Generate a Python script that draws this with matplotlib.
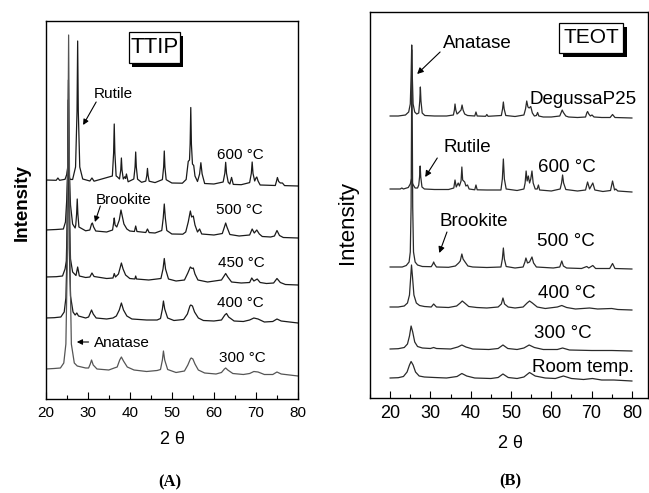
import numpy as np
import matplotlib
matplotlib.use("Agg")
from matplotlib import pyplot as plt
from matplotlib.patches import Rectangle
from matplotlib.ticker import MultipleLocator

plt.rcParams['font.family'] = ['Liberation Sans', 'DejaVu Sans']

# ---- data: (2 theta, intensity above curve baseline) ----
# (A) TTIP series
ttip_600 = [(20, 0), (22.5, -0.3), (22.9, 2), (23.3, -0.3), (24.6, 0.7), (25.0, 5.5), (25.2, 11.5), (25.4, 5.5),
            (25.8, 0.6), (26.4, 0.5), (27.1, 13), (27.45, 69), (27.6, 139), (27.75, 69), (28.1, 13), (28.8, 1),
            (30.5, -1), (31, 2), (31.5, -1.2), (35.85, 4), (36.15, 27), (36.3, 56), (36.45, 27), (36.75, 4),
            (37.0, 3.3), (37.55, 1), (37.85, 10), (38.0, 22), (38.15, 10), (38.45, 1), (38.8, 3.2), (39.0, 1.5),
            (39.2, 6), (39.6, -1.8), (40.95, 1), (41.25, 13), (41.4, 28), (41.55, 13), (41.85, 0.8), (42.8, -2.3),
            (43.8, -1.1), (44.05, 4.6), (44.2, 11.6), (44.35, 4.6), (44.6, -1.2), (46, -2.6), (47.75, 0.4),
            (48.05, 13), (48.2, 29), (48.35, 13), (48.65, 0.3), (50, -3), (52.5, -3.2), (53.4, 0.5), (53.9, 18.6),
            (54.2, 20), (54.35, 36), (54.5, 72.5), (54.65, 36), (54.9, 16), (55.2, 14.5), (55.5, 4), (56.1, -1.5),
            (56.6, 6), (56.9, 17.3), (57.2, 6), (57.8, -3.5), (60, -4), (62.2, -2), (62.6, 6.7), (62.8, 17.7),
            (63.0, 6.7), (63.4, -2.2), (63.8, -4), (64.2, 2.6), (64.6, -4.4), (66.5, -4.7), (68.5, -2.6),
            (68.9, 6.6), (69.1, 18), (69.3, 6.6), (69.7, -1), (70.0, 2), (70.2, 3), (70.5, -1), (71, -5),
            (72.5, -5.2), (74.6, -5.5), (74.9, -1), (75.1, 2.5), (75.4, -1.5), (75.8, -3), (76.3, -3),
            (76.8, -5.6), (80, -6)]
ttip_500 = [(20, 0), (22.5, 0.5), (24.2, 1), (24.7, 8), (25.0, 30), (25.2, 60), (25.4, 110), (25.6, 60),
            (25.9, 25), (26.4, 6), (27.0, 2), (27.15, 5), (27.35, 16), (27.5, 31), (27.65, 16), (27.9, 3),
            (29.5, -0.8), (30.5, 0), (30.9, 6), (31.1, 7), (31.4, 3), (31.9, -1), (34.5, -2), (35.9, 0),
            (36.15, 7), (36.3, 12), (36.5, 5), (36.9, 3), (37.5, 10), (37.9, 20), (38.2, 14), (38.6, 6),
            (39.3, 1), (40, -1), (41.1, -1.5), (41.4, 4), (41.7, -1.5), (43.8, -2.5), (44.2, 1), (44.6, -2.6),
            (46, -3), (47.6, -0.5), (47.95, 12), (48.2, 26), (48.45, 12), (48.8, -0.5), (50, -4), (52.6, -4.2),
            (53.3, -2), (53.9, 8), (54.4, 19), (54.7, 13), (55.1, 14), (55.5, 5), (56.1, -2), (56.6, 1),
            (57.1, -4), (60, -5), (62.0, -3.5), (62.5, 3), (62.8, 7), (63.1, 3), (63.8, -4.5), (66, -6),
            (68.5, -5), (69.1, 1), (69.6, -3), (70.2, 0), (70.8, -4), (71.5, -6.5), (73.5, -7), (74.4, -6),
            (75.0, -0.5), (75.6, -5.5), (76.5, -7.5), (80, -8)]
ttip_450 = [(20, 0), (22.5, 0.3), (24.0, 1), (24.6, 8), (24.9, 16), (25.15, 60), (25.4, 197), (25.65, 60),
            (25.9, 18), (26.4, 5), (27.2, 1.5), (27.6, 10), (28.0, 1), (29.5, -0.5), (30.5, 0), (31, 4),
            (31.5, 0.5), (34.5, -1.5), (36.0, -1), (36.3, 3.5), (36.6, 0), (37.3, 3), (37.75, 10), (38.0, 14),
            (38.4, 8), (39.0, 2), (40, -1.5), (41.2, -2), (41.4, 1), (41.6, -2), (44.5, -3), (47.4, -1.5),
            (47.9, 8), (48.2, 18.5), (48.5, 8), (49.2, -2), (51, -4), (53, -3), (53.8, 4), (54.4, 10),
            (54.8, 8.5), (55.1, 9), (55.5, 3), (56.2, -3), (58.5, -5), (61.8, -3), (62.5, 1.5), (62.8, 3.5),
            (63.3, 0), (64.2, -5), (66.5, -6), (68.5, -5.5), (69.0, -1), (69.5, -4), (70.3, -2), (71, -5.5),
            (72.5, -6.5), (74.2, -6), (75, -1.5), (75.8, -5.5), (77, -7.5), (80, -8)]
ttip_400 = [(20, 0), (22.0, 0.3), (23.6, 1), (24.4, 6), (24.8, 20), (25.1, 70), (25.35, 218), (25.6, 70),
            (25.9, 22), (26.5, 6), (27.0, 3), (27.4, 5), (27.8, 2), (29.5, 0), (30.2, 1), (30.6, 5), (30.9, 8),
            (31.3, 4), (32.0, 0), (34.5, -1), (36, 0), (36.8, 2), (37.5, 8), (38.0, 15), (38.5, 8), (39.3, 2),
            (40.5, -1), (44, -2), (46.5, -2), (47.3, -0.5), (47.75, 9), (48.0, 17), (48.3, 9), (49.0, 0),
            (50.5, -2.5), (52.8, -1.5), (53.7, 4), (54.3, 12), (54.5, 13), (54.9, 12), (55.4, 6), (56.3, 0),
            (57.5, -2.5), (60, -3), (61.8, -2), (62.6, 3), (63.0, 4.5), (63.5, 1), (64.8, -3), (67, -3.5),
            (68.5, -2), (69.5, 0), (70.5, -1), (72, -4), (74, -3.5), (75, -1), (76, -3), (80, -5)]
ttip_300 = [(20, 0), (22.0, 0.5), (23.5, 1), (24.3, 6), (24.8, 25), (25.1, 100), (25.45, 334), (25.8, 100),
            (26.1, 25), (26.8, 6), (27.5, 3), (29.5, 1), (30.2, 1), (30.6, 5), (30.9, 9), (31.3, 4), (32.2, 0),
            (35, -1), (36.3, 1), (37.0, 2), (37.6, 9), (38.0, 12), (38.5, 8), (39.4, 2), (41, -1), (44, -2.5),
            (46.5, -1.5), (47.3, -0.5), (47.75, 9), (48.0, 18), (48.3, 9), (49.0, -0.5), (51, -3.5),
            (53.0, -2), (53.8, 4), (54.4, 10), (54.6, 11), (55.0, 10), (55.5, 5), (56.3, -1), (57.8, -4),
            (60.5, -5), (61.8, -3.5), (62.5, 0), (62.8, 1), (63.3, -1), (64.5, -4.5), (67, -5.5), (68.5, -4.5),
            (69.5, -2.5), (70.5, -3), (72, -5.5), (74, -5.5), (75, -3), (76, -5), (80, -7)]

# (B) TEOT series
p25 = [(20, 0), (22, 0), (23.8, 1), (24.6, 4), (25.0, 12), (25.2, 40), (25.35, 71), (25.5, 40), (25.7, 12),
       (26.1, 4), (26.6, 2), (27.1, 3), (27.35, 15), (27.5, 29), (27.65, 15), (27.95, 3), (28.6, 0.5), (31, 0),
       (34, 0), (35.7, 1), (35.95, 6), (36.1, 12), (36.3, 6), (36.6, 2), (36.9, 3), (37.6, 6), (37.85, 11),
       (38.1, 6), (38.5, 2), (39.2, 0.5), (41, 0), (41.3, 4), (41.6, 0), (43.7, -0.3), (44, 1.5), (44.3, -0.3),
       (47.6, 0.5), (47.9, 7), (48.1, 14), (48.3, 7), (48.7, 0.5), (51, -0.5), (53.2, 1), (53.6, 7), (53.9, 15),
       (54.2, 9), (54.5, 8), (54.9, 9.5), (55.3, 3), (55.8, 0), (56.3, 0.5), (56.6, 3.5), (56.9, 0), (58, -1),
       (60, -1), (62.1, 0), (62.5, 4), (62.7, 6), (63.0, 3.5), (63.6, 0), (64.3, -1), (66.5, -1.5),
       (68.5, -1), (68.8, 3), (69.0, 4.5), (69.3, 2), (69.7, 0), (70.1, 1), (70.6, -1), (72.5, -1.5),
       (74.6, -1.5), (75.2, 1.5), (75.8, -1.5), (80, -2)]
teot_600 = [(20, 0), (22.5, 0), (22.9, 1), (23.3, 0), (24.5, 1.5), (25.0, 5), (25.3, 10), (25.6, 5), (26.2, 1),
            (26.8, 1), (27.1, 4), (27.3, 12), (27.45, 23), (27.6, 12), (27.9, 2), (28.5, 0), (31, -0.5),
            (34.5, -0.5), (35.8, 1), (36.1, 9), (36.4, 2), (36.9, 6), (37.2, 3), (37.6, 8), (37.8, 22), (38.0, 9),
            (38.5, 7), (38.8, 3), (39.2, 4), (39.6, 0), (41.0, -0.8), (41.3, 4), (41.6, -0.8), (44, -1),
            (47.5, -1), (47.85, 10), (48.1, 30), (48.35, 10), (48.8, 0), (51.5, -1.5), (53.2, 0), (53.5, 6),
            (53.75, 18), (54.0, 8), (54.3, 13), (54.6, 6), (54.9, 10), (55.2, 18), (55.5, 6), (56.0, 0),
            (56.5, 0), (56.8, 4), (57.1, -1), (60, -2), (62.2, 0), (62.55, 6), (62.8, 14), (63.05, 6),
            (63.6, -0.5), (66.5, -2), (68.5, -1), (69.0, 7), (69.5, 0), (70.3, 6), (70.8, -1), (72.8, -2.5),
            (74.7, -1.5), (75.2, 8), (75.7, -1), (76.0, 0), (76.5, -2), (80, -3)]
teot_500 = [(20, 0), (23, 0), (24.0, 1.5), (24.7, 5), (25.0, 15), (25.2, 60), (25.4, 217), (25.6, 60),
            (25.8, 15), (26.2, 5), (26.8, 2), (28, 0.5), (30.2, 0.3), (30.6, 3), (30.8, 5), (31.0, 3), (31.5, 0),
            (34.5, -0.3), (36.2, 1), (37.0, 4), (37.4, 6), (37.8, 13), (38.1, 8), (38.6, 5), (39.3, 1), (40.5, 0),
            (44, -0.5), (47.5, 0), (47.85, 8), (48.1, 19), (48.35, 8), (48.8, 0.5), (51, -1), (53.0, 0),
            (53.45, 5), (53.7, 9), (54.1, 4), (54.6, 5), (55.2, 10), (55.6, 4), (56.3, 0), (60.5, -1),
            (62.1, 0), (62.6, 6), (63.0, 1), (63.8, -1), (67.5, -1.5), (68.8, 0.5), (69.3, -1), (70.3, 1.5),
            (71, -1.5), (74.5, -1.5), (75.2, 3.5), (75.8, -1.5), (80, -2)]
teot_400 = [(20, 0), (22, 0), (23.5, 1), (24.3, 4), (24.8, 12), (25.1, 30), (25.3, 42), (25.55, 30),
            (25.9, 12), (26.5, 4), (27.3, 1.5), (28.5, 0.5), (30.2, 0), (30.8, 3), (31.5, 0), (34.5, -0.5),
            (36.5, 1), (37.4, 4), (37.9, 6), (38.5, 4), (39.5, 0.5), (41.5, -0.5), (44, -1), (46.8, 0),
            (47.6, 3), (48.0, 9), (48.4, 3), (49.3, 0), (51, -1), (53, 0), (54.0, 4), (54.6, 6), (55.3, 4),
            (56.5, 0), (58.5, -1.5), (61.5, 0), (62.6, 1.5), (63.8, -0.5), (66, -2), (69.5, -1), (71.5, -2),
            (75, -1.5), (76.5, -2.5), (80, -3)]
teot_300 = [(20, 0), (22, 0.3), (23.5, 1.5), (24.3, 5), (24.8, 13), (25.2, 23), (25.6, 17), (26.1, 7),
            (26.8, 2.5), (28, 1), (30, 0.5), (30.8, 1.5), (31.5, 0.5), (35, 0), (36.8, 2), (37.8, 4), (38.8, 2),
            (40.5, 0), (44.5, -0.5), (46.8, 0.5), (48.0, 4), (49.2, 0.5), (51.5, -0.5), (53.2, 1), (54.5, 4),
            (55.8, 1.5), (58, -0.5), (61.5, -0.5), (62.8, 1), (64.5, -1), (70, -1.5), (75, -1.5), (80, -2)]
teot_rt = [(20, 0), (22, 0.3), (23.3, 1.5), (24.2, 6), (24.8, 13), (25.2, 16.5), (25.7, 13), (26.3, 6),
           (27.2, 2), (28.5, 1), (31, 0.5), (34, 0), (36.6, 1.5), (37.8, 4.5), (39, 2), (41, 0), (45, -0.5),
           (46.8, 0.5), (48.0, 4), (49.3, 0.5), (51.5, -0.5), (53.2, 1), (54.6, 5.5), (56, 2), (58.5, 0),
           (61, -0.5), (63.0, 2), (65, -0.5), (68, -1.5), (70.2, -0.5), (72.5, -2), (75.5, -2), (80, -3)]

ttip_curves = [ttip_600, ttip_500, ttip_450, ttip_400, ttip_300]
ttip_labels = ["600 °C", "500 °C", "450 °C", "400 °C", "300 °C"]
ttip_offsets = [219, 169, 122, 81, 30]
ttip_colors = ["#1a1a1a", "#1a1a1a", "#1a1a1a", "#1a1a1a", "#555555"]
ttip_label_pos = [(60.7, 244), (60.5, 189), (61.0, 136), (60.7, 96), (61.2, 41)]

teot_curves = [p25, teot_600, teot_500, teot_400, teot_300, teot_rt]
teot_labels = ["DegussaP25", "600 °C", "500 °C", "400 °C", "300 °C", "Room temp."]
teot_offsets = [282, 209, 131, 91, 49, 20]
teot_label_pos = [(54.7, 299), (56.7, 230), (56.5, 156), (56.7, 105), (55.7, 65), (55.2, 30)]

W, H = 649, 493
fig = plt.figure(figsize=(W / 100, H / 100), dpi=100)

def px_box(x0, y0, x1, y1):
    # figure pixel box -> [left, bottom, width, height]
    return [x0 / W, 1 - y1 / H, (x1 - x0) / W, (y1 - y0) / H]

def style_axis(ax, fs):
    ax.set_yticks([])
    ax.xaxis.set_major_locator(MultipleLocator(10))
    ax.xaxis.set_minor_locator(MultipleLocator(5))
    ax.tick_params(axis='x', which='major', direction='in', length=5, width=0.8, labelsize=fs, pad=5)
    ax.tick_params(axis='x', which='minor', direction='in', length=3, width=0.8)
    for s in ax.spines.values():
        s.set_linewidth(1.0)

def shadow_box(ax, x0, y0, x1, y1, text, fs, weight='normal'):
    ax.add_patch(Rectangle((x0 + 0.013, y0 - 0.01), x1 - x0, y1 - y0, transform=ax.transAxes,
                           fc='black', ec='black', lw=0, zorder=4))
    ax.add_patch(Rectangle((x0, y0), x1 - x0, y1 - y0, transform=ax.transAxes,
                           fc='white', ec='black', lw=0.9, zorder=5))
    ax.text((x0 + x1) / 2, (y0 + y1) / 2, text, transform=ax.transAxes, ha='center', va='center',
            fontsize=fs, fontweight=weight, zorder=6)

def arrow(ax, start, end, ms):
    ax.annotate("", xy=end, xytext=start,
                arrowprops=dict(arrowstyle='-|>', lw=0.8, color='black', mutation_scale=ms,
                                shrinkA=0, shrinkB=0))

# ---- panel A ----
axA = fig.add_axes(px_box(45.7, 21, 298, 399))
for curve, off, col in zip(ttip_curves, ttip_offsets, ttip_colors):
    tt = np.array([p[0] for p in curve])
    ii = np.array([p[1] for p in curve])
    axA.plot(tt, ii + off, color=col, lw=0.9)
for lab, (x, y) in zip(ttip_labels, ttip_label_pos):
    axA.text(x, y, lab, fontsize=11, va='center', ha='left')
axA.set_xlim(20, 80)
axA.set_ylim(0, 378)
style_axis(axA, 11)

axA.text(31.5, 305, "Rutile", fontsize=11, va='center')
arrow(axA, (32.0, 297), (28.9, 274), 8)
axA.text(32.0, 199, "Brookite", fontsize=11, va='center')
arrow(axA, (33.0, 193), (31.7, 177), 8)
axA.text(31.5, 56, "Anatase", fontsize=11, va='center')
arrow(axA, (30.2, 57), (27.4, 57), 8)
shadow_box(axA, 0.330, 0.889, 0.532, 0.971, "TTIP", 16)

fig.text(22 / W, 1 - 203 / H, "Intensity", rotation=90, fontsize=13.5, fontweight='bold',
         ha='center', va='center')
fig.text(172 / W, 1 - 440 / H, "2 θ", fontsize=13, ha='center', va='center')
fig.text(170 / W, 1 - 482 / H, "(A)", fontsize=12, ha='center', va='center',
         family=['Liberation Serif', 'DejaVu Serif'], fontweight='bold')

# ---- panel B ----
axB = fig.add_axes(px_box(370, 11.7, 648, 398))
for curve, off in zip(teot_curves, teot_offsets):
    tt = np.array([p[0] for p in curve])
    ii = np.array([p[1] for p in curve])
    axB.plot(tt, ii + off, color="#2a2a2a", lw=0.9)
for lab, (x, y) in zip(teot_labels, teot_label_pos):
    axB.text(x, y, lab, fontsize=13.5, va='center', ha='left')
axB.set_xlim(15, 84)
axB.set_ylim(0, 386.3)
style_axis(axB, 13)

axB.text(33.2, 354, "Anatase", fontsize=13.5, va='center')
arrow(axB, (32.4, 346), (26.7, 324), 9)
axB.text(33.2, 251, "Rutile", fontsize=13.5, va='center')
arrow(axB, (31.7, 240), (28.7, 221), 9)
axB.text(32.2, 176, "Brookite", fontsize=13.5, va='center')
arrow(axB, (34.1, 166), (32.2, 145), 9)
shadow_box(axB, 0.680, 0.893, 0.910, 0.971, "TEOT", 15)

fig.text(348 / W, 1 - 223 / H, "Intensity", rotation=90, fontsize=16, ha='center', va='center')
fig.text(510 / W, 1 - 443 / H, "2 θ", fontsize=13, ha='center', va='center')
fig.text(510 / W, 1 - 481 / H, "(B)", fontsize=12, ha='center', va='center',
         family=['Liberation Serif', 'DejaVu Serif'], fontweight='bold')

fig.savefig("out.png", dpi=100)
